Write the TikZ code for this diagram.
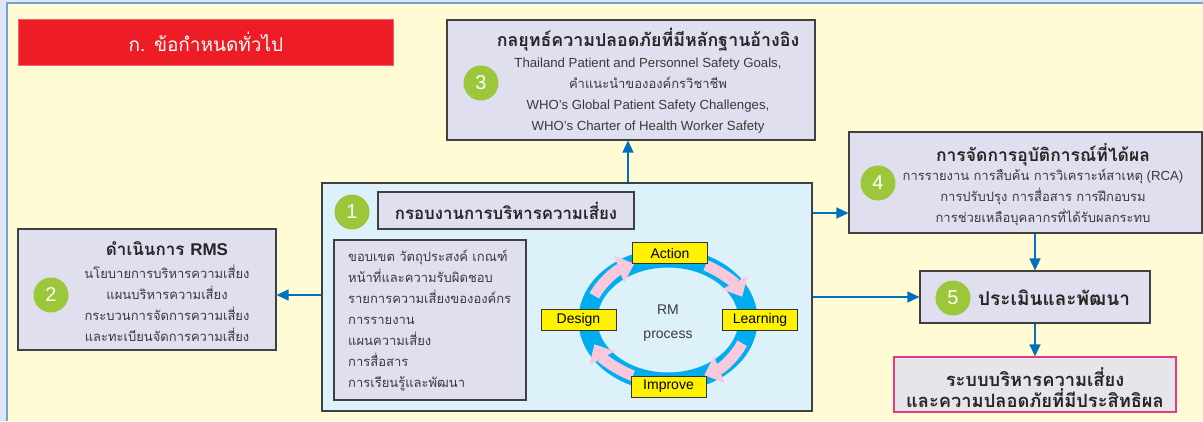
\documentclass[tikz,border=0pt]{standalone}
\usepackage{fontspec}
\setmainfont{Liberation Sans}
\newfontfamily\thai[Script=Thai]{Loma}
\usetikzlibrary{arrows.meta}
\definecolor{cream}{HTML}{FFFBD5}
\definecolor{framebg}{HTML}{DCE6F4}
\definecolor{frameline}{HTML}{6FA3D6}
\definecolor{lav}{HTML}{DFDFEF}
\definecolor{lblue}{HTML}{DDF1FA}
\definecolor{conblue}{HTML}{0070C0}
\definecolor{numgreen}{HTML}{9DC73B}
\definecolor{redbox}{HTML}{EE1C25}
\definecolor{ringcol}{HTML}{00AEEF}
\definecolor{pinkarr}{HTML}{F8C8DC}
\definecolor{txtgray}{HTML}{3A3A3A}
\definecolor{finborder}{HTML}{E8388A}
\definecolor{fingray}{HTML}{E6E6EA}
\tikzset{
  box/.style={draw=black!75, line width=1.1pt, fill=lav, inner sep=0pt},
  num/.style={circle, fill=numgreen, minimum size=35pt, inner sep=0pt, text=white, font=\fontsize{20}{20}\selectfont},
  conn/.style={draw=conblue, line width=1.4pt, -{Triangle[width=11pt,length=12pt]}},
  body/.style={text=txtgray, font=\fontsize{13.2}{21}\selectfont, align=center, inner sep=0pt},
  tbody/.style={text=txtgray, font=\thai\fontsize{13}{21}\selectfont, align=center, inner sep=0pt},
  ttitle/.style={text=black!85, font=\thai\bfseries\fontsize{17.5}{21}\selectfont, align=center, inner sep=0pt},
  lab/.style={draw=black!80, line width=0.9pt, fill=yellow, minimum width=75pt, minimum height=21pt, inner sep=0pt, font=\fontsize{14}{14}\selectfont},
  pinkarrow/.style={draw=pinkarr, line width=11pt, -{Triangle[width=28pt,length=16pt]}},
}
\begin{document}
\begin{tikzpicture}[x=1pt,y=-1pt]
\useasboundingbox (0,0) rectangle (1203,421);
% background frame
\fill[framebg] (0,0) rectangle (1203,421);
\fill[cream] (7,3) rectangle (1203,421);
\draw[frameline, line width=1.3pt] (7,421) -- (7,3) -- (1203,3);

% red header
\node[fill=redbox, draw=redbox!70!white, minimum width=375pt, minimum height=46pt, inner sep=0pt] (red) at (205.5,42) {};
\node[text=white, font=\thai\fontsize{19}{19}\selectfont, inner sep=0pt] (redt) at (206,42) {ก. ข้อกำหนดทั่วไป};

% box 3
\node[box, minimum width=368pt, minimum height=120pt] (b3) at (631,80) {};
\node[num] (n3) at (481,83) {3};
\node[ttitle, font=\thai\bfseries\fontsize{17.8}{21}\selectfont] (t3) at (648,40) {กลยุทธ์ความปลอดภัยที่มีหลักฐานอ้างอิง};
\node[body] (t3b) at (648,96) {Thailand Patient and Personnel Safety Goals,\\{\thai\fontsize{13}{21}\selectfont คำแนะนำขององค์กรวิชาชีพ}\\WHO’s Global Patient Safety Challenges,\\WHO’s Charter of Health Worker Safety};

% box 4
\node[box, minimum width=353pt, minimum height=101pt] (b4) at (1025.5,182.5) {};
\node[num] (n4) at (878,183) {4};
\node[ttitle] (t4) at (1043,155) {การจัดการอุบัติการณ์ที่ได้ผล};
\node[body] (t4b) at (1043,197) {{\thai\fontsize{13}{21}\selectfont การรายงาน การสืบค้น การวิเคราะห์สาเหตุ} (RCA)\\{\thai\fontsize{13}{21}\selectfont การปรับปรุง การสื่อสาร การฝึกอบรม}\\{\thai\fontsize{13}{21}\selectfont การช่วยเหลือบุคลากรที่ได้รับผลกระทบ}};

% box 2
\node[box, minimum width=258pt, minimum height=121pt] (b2) at (147,289.5) {};
\node[num] (n2) at (51,295) {2};
\node[ttitle, font=\thai\bfseries\fontsize{17}{21}\selectfont] (t2) at (167,249) {ดำเนินการ {\fontspec{Liberation Sans}\bfseries RMS}};
\node[tbody] (t2b) at (167,303) {นโยบายการบริหารความเสี่ยง\\แผนบริหารความเสี่ยง\\กระบวนการจัดการความเสี่ยง\\และทะเบียนจัดการความเสี่ยง};

% box 1
\node[box, fill=lblue, minimum width=490pt, minimum height=228pt] (b1) at (567,297) {};
\node[num] (n1) at (352,212) {1};
\node[box, minimum width=256pt, minimum height=37pt] (t1box) at (506,210.5) {};
\node[ttitle, font=\thai\bfseries\fontsize{16.8}{21}\selectfont] (t1) at (506,211) {กรอบงานการบริหารความเสี่ยง};
\node[box, minimum width=192pt, minimum height=160pt] (list) at (430,320) {};
\node[tbody, align=left, anchor=west] (listt) at (348,320) {ขอบเขต วัตถุประสงค์ เกณฑ์\\หน้าที่และความรับผิดชอบ\\รายการความเสี่ยงขององค์กร\\การรายงาน\\แผนความเสี่ยง\\การสื่อสาร\\การเรียนรู้และพัฒนา};

% ring
\draw[ringcol, line width=19pt] (668,320) ellipse [x radius=80, y radius=62];
\draw[pinkarrow] ([shift={(203:80 and 62)}]668,320) arc[start angle=203, end angle=245, x radius=80, y radius=62];
\draw[pinkarrow] ([shift={(298:80 and 62)}]668,320) arc[start angle=298, end angle=338, x radius=80, y radius=62];
\draw[pinkarrow] ([shift={(22:80 and 62)}]668,320) arc[start angle=22, end angle=63, x radius=80, y radius=62];
\draw[pinkarrow] ([shift={(116:80 and 62)}]668,320) arc[start angle=116, end angle=157, x radius=80, y radius=62];
\node[text=txtgray, font=\fontsize{14}{24}\selectfont, align=center, inner sep=0pt] (rm) at (668,323) {RM\\process};
\node[lab] (act) at (670,253) {Action};
\node[lab] (lrn) at (760,319.5) {Learning};
\node[lab] (imp) at (668.5,386.5) {Improve};
\node[lab] (des) at (578.5,319.5) {Design};

% box 5
\node[box, minimum width=230pt, minimum height=52pt] (b5) at (1035,297) {};
\node[num] (n5) at (953,298) {5};
\node[ttitle, font=\thai\bfseries\fontsize{19}{21}\selectfont] (t5) at (1054,298) {ประเมินและพัฒนา};

% final box
\node[draw=finborder, line width=1.3pt, fill=fingray, minimum width=282pt, minimum height=55pt, inner sep=0pt] (fin) at (1035,384.5) {};
\node[ttitle, font=\thai\bfseries\fontsize{18.3}{21}\selectfont] (tf) at (1035,387.5) {ระบบบริหารความเสี่ยง\\และความปลอดภัยที่มีประสิทธิผล};

% connectors
\coordinate (x628) at (628,0);
\coordinate (y213) at (0,213);
\coordinate (y295) at (0,295);
\draw[conn] (b1.north -| x628) -- (b3.south -| x628);
\draw[conn] (b1.east |- y213) -- (b4.west |- y213);
\draw[conn] (b1.west |- y295) -- (b2.east |- y295);
\draw[conn] (b1.east |- b5.west) -- (b5.west);
\draw[conn] (b4.south -| b5.north) -- (b5.north);
\draw[conn] (b5.south) -- (fin.north);
\end{tikzpicture}
\end{document}
